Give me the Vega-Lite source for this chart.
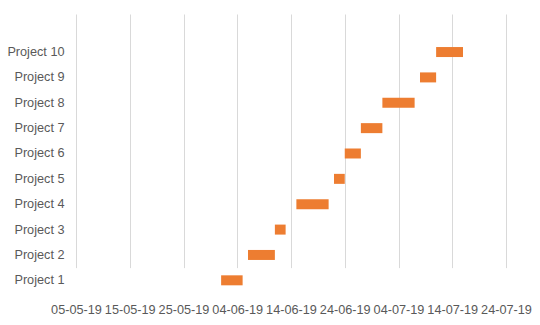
{
  "$schema": "https://vega.github.io/schema/vega-lite/v6.json",
  "autosize": "none",
  "width": 430,
  "height": 279,
  "padding": {"left": 76, "top": 14, "right": 34, "bottom": 32},
  "background": "white",
  "data": {
    "values": [
      {"task": "Project 1", "start": "2019-06-01", "end": "2019-06-05"},
      {"task": "Project 2", "start": "2019-06-06", "end": "2019-06-11"},
      {"task": "Project 3", "start": "2019-06-11", "end": "2019-06-13"},
      {"task": "Project 4", "start": "2019-06-15", "end": "2019-06-21"},
      {"task": "Project 5", "start": "2019-06-22", "end": "2019-06-24"},
      {"task": "Project 6", "start": "2019-06-24", "end": "2019-06-27"},
      {"task": "Project 7", "start": "2019-06-27", "end": "2019-07-01"},
      {"task": "Project 8", "start": "2019-07-01", "end": "2019-07-07"},
      {"task": "Project 9", "start": "2019-07-08", "end": "2019-07-11"},
      {"task": "Project 10", "start": "2019-07-11", "end": "2019-07-16"}
    ]
  },
  "mark": {"type": "bar", "color": "#ED7D31", "height": 10},
  "encoding": {
    "y": {
      "field": "task",
      "type": "nominal",
      "sort": ["Project 10", "Project 9", "Project 8", "Project 7", "Project 6", "Project 5", "Project 4", "Project 3", "Project 2", "Project 1"],
      "scale": {"range": [25.36, 279], "paddingInner": 0, "paddingOuter": 0},
      "axis": {
        "title": null,
        "domain": false,
        "ticks": false,
        "grid": false,
        "labelPadding": 12,
        "labelFont": "Liberation Sans",
        "labelFontSize": 12.7,
        "labelColor": "#595959"
      }
    },
    "x": {
      "field": "start",
      "type": "temporal",
      "scale": {
        "type": "utc",
        "domain": [
          {"year": 2019, "month": 5, "date": 5, "utc": true},
          {"year": 2019, "month": 7, "date": 24, "utc": true}
        ]
      },
      "axis": {
        "title": null,
        "values": [
          {"year": 2019, "month": 5, "date": 5, "utc": true},
          {"year": 2019, "month": 5, "date": 15, "utc": true},
          {"year": 2019, "month": 5, "date": 25, "utc": true},
          {"year": 2019, "month": 6, "date": 4, "utc": true},
          {"year": 2019, "month": 6, "date": 14, "utc": true},
          {"year": 2019, "month": 6, "date": 24, "utc": true},
          {"year": 2019, "month": 7, "date": 4, "utc": true},
          {"year": 2019, "month": 7, "date": 14, "utc": true},
          {"year": 2019, "month": 7, "date": 24, "utc": true}
        ],
        "labelExpr": "utcFormat(datum.value, '%d-%m-%y')",
        "domain": false,
        "ticks": false,
        "grid": true,
        "gridColor": "#D9D9D9",
        "gridWidth": 1,
        "labelPadding": 10,
        "labelFont": "Liberation Sans",
        "labelFontSize": 12.7,
        "labelColor": "#595959",
        "labelOverlap": false,
        "labelFlush": false
      }
    },
    "x2": {"field": "end"}
  },
  "config": {"view": {"stroke": null}}
}
